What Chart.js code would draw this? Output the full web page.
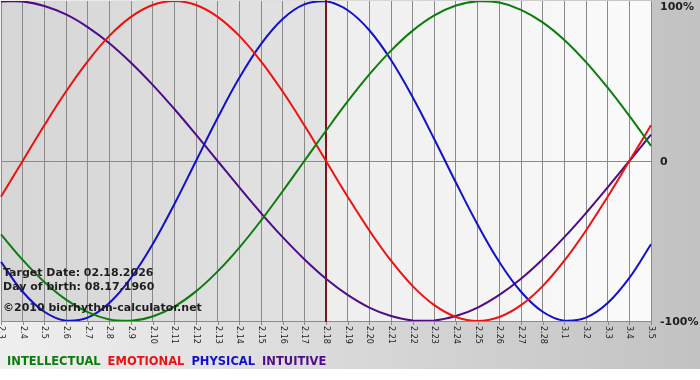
<!DOCTYPE html>
<html>
<head>
<meta charset="utf-8">
<script src="https://cdn.jsdelivr.net/npm/chart.js@4/dist/chart.umd.min.js"></script>
<style>
  body { margin: 0; background: #fff; }
  canvas { display: block; }
</style>
</head>
<body>
<canvas id="chart" width="700" height="380"></canvas>
<script>
// days shown on the x axis (month.day)
var days = ['2.3', '2.4', '2.5', '2.6', '2.7', '2.8', '2.9', '2.10', '2.11', '2.12', '2.13', '2.14',
  '2.15', '2.16', '2.17', '2.18', '2.19', '2.20', '2.21', '2.22', '2.23', '2.24', '2.25', '2.26',
  '2.27', '2.28', '3.1', '3.2', '3.3', '3.4', '3.5'];

// cycle values in percent
var intellectual = [-45.8, -61.8, -75.6, -86.6, -94.5, -99.0, -99.9, -97.2, -91.0, -81.5, -69.0, -54.1,
  -37.2, -18.9, 0, 18.9, 37.2, 54.1, 69.0, 81.5, 91.0, 97.2, 99.9, 99.0, 94.5, 86.6, 75.6, 61.8,
  45.8, 28.2, 9.5];
var emotional = [-22.3, 0, 22.3, 43.4, 62.3, 78.2, 90.1, 97.5, 100, 97.5, 90.1, 78.2, 62.3, 43.4,
  22.3, 0, -22.3, -43.4, -62.3, -78.2, -90.1, -97.5, -100, -97.5, -90.1, -78.2, -62.3, -43.4, -22.3,
  0, 22.3];
var physical = [-63.1, -81.7, -94.2, -99.8, -97.9, -88.8, -73.1, -52.0, -27.0, 0, 27.0, 52.0, 73.1,
  88.8, 97.9, 99.8, 94.2, 81.7, 63.1, 39.8, 13.6, -13.6, -39.8, -63.1, -81.7, -94.2, -99.8, -97.9,
  -88.8, -73.1, -52.0];
var intuitive = [99.7, 99.7, 96.9, 91.6, 83.7, 73.6, 61.4, 47.6, 32.5, 16.5, 0, -16.5, -32.5, -47.6,
  -61.4, -73.6, -83.7, -91.6, -96.9, -99.7, -99.7, -96.9, -91.6, -83.7, -73.6, -61.4, -47.6, -32.5,
  -16.5, 0, 16.5];

var yTicks = [100, 0, -100];
var yTickLabels = ['100%', '0', '-100%'];
var targetDay = '2.18';
var infoLines = ['Target Date: 02.18.2026', 'Day of birth: 08.17.1960', '\u00a92010 biorhythm-calculator.net'];
var seriesNames = ['INTELLECTUAL', 'EMOTIONAL', 'PHYSICAL', 'INTUITIVE'];
var seriesColors = ['#0c7d0c', '#ee1111', '#1111cc', '#4e0c86'];

var gridColor = '#8a8a8a';
var textColor = '#1e1e1e';

// backgrounds, marker, tick labels and captions
var decor = {
  id: 'decor',
  beforeDraw: function (chart) {
    var ctx = chart.ctx, area = chart.chartArea;
    var markX = chart.scales.x.getPixelForValue(days.indexOf(targetDay));
    ctx.save();
    ctx.fillStyle = '#ffffff';
    ctx.fillRect(0, 0, chart.width, chart.height);
    var g = ctx.createLinearGradient(0, 0, chart.width, 0);
    g.addColorStop(0, '#efefef');
    g.addColorStop(1, '#c2c2c2');
    ctx.fillStyle = g;
    ctx.fillRect(0, 0, chart.width, 369);

    var gl = ctx.createLinearGradient(area.left, 0, markX, 0);
    gl.addColorStop(0, '#d6d6d6');
    gl.addColorStop(1, '#e3e3e3');
    ctx.fillStyle = gl;
    ctx.fillRect(area.left, area.top, markX - area.left, area.bottom - area.top);

    var gr = ctx.createLinearGradient(markX, 0, area.right, 0);
    gr.addColorStop(0, '#eeeeee');
    gr.addColorStop(1, '#fbfbfb');
    ctx.fillStyle = gr;
    ctx.fillRect(markX, area.top, area.right - markX, area.bottom - area.top);
    ctx.restore();
  },
  beforeDatasetsDraw: function (chart) {
    var ctx = chart.ctx, area = chart.chartArea, xs = chart.scales.x;
    var markX = xs.getPixelForValue(days.indexOf(targetDay));
    ctx.save();
    // small tick marks under the axis
    ctx.strokeStyle = gridColor;
    ctx.lineWidth = 1;
    days.forEach(function (d, i) {
      var x = Math.round(xs.getPixelForValue(i)) + 0.5;
      ctx.beginPath();
      ctx.moveTo(x, area.bottom);
      ctx.lineTo(x, area.bottom + 4);
      ctx.stroke();
    });
    // target date marker
    ctx.strokeStyle = '#7f1515';
    ctx.lineWidth = 2;
    ctx.beginPath();
    ctx.moveTo(markX, 0);
    ctx.lineTo(markX, area.bottom + 1);
    ctx.stroke();
    ctx.restore();
  },
  afterDraw: function (chart) {
    var ctx = chart.ctx, area = chart.chartArea;
    var xs = chart.scales.x, ys = chart.scales.y;
    ctx.save();
    ctx.fillStyle = textColor;

    // x tick labels, turned clockwise
    ctx.font = '8px "DejaVu Sans"';
    ctx.textAlign = 'left';
    ctx.textBaseline = 'middle';
    days.forEach(function (d, i) {
      ctx.save();
      ctx.translate(xs.getPixelForValue(i), area.bottom + 5);
      ctx.rotate(Math.PI / 2);
      ctx.fillText(d, 0, 0);
      ctx.restore();
    });

    // y labels on the right
    ctx.font = 'bold 11px "DejaVu Sans"';
    yTicks.forEach(function (v, i) {
      var y = Math.max(ys.getPixelForValue(v) + 1, 7);
      ctx.fillText(yTickLabels[i], area.right + 9, y);
    });

    // info text
    ctx.textBaseline = 'alphabetic';
    ctx.fillText(infoLines[0], 3, 276);
    ctx.fillText(infoLines[1], 3, 290);
    ctx.fillText(infoLines[2], 3, 311);

    // legend
    ctx.font = 'bold 11.5px "DejaVu Sans"';
    var x = 7;
    seriesNames.forEach(function (name, i) {
      ctx.fillStyle = seriesColors[i];
      ctx.fillText(name, x, 365);
      x += ctx.measureText(name).width + 7;
    });
    ctx.restore();
  }
};

function makeSet(label, data, color) {
  return {
    label: label,
    data: data,
    borderColor: color,
    backgroundColor: color,
    borderWidth: 2,
    pointRadius: 0,
    fill: false,
    tension: 0.4
  };
}

var chart = new Chart(document.getElementById('chart'), {
  type: 'line',
  data: {
    labels: days,
    datasets: [
      makeSet(seriesNames[0], intellectual, seriesColors[0]),
      makeSet(seriesNames[1], emotional, seriesColors[1]),
      makeSet(seriesNames[2], physical, seriesColors[2]),
      makeSet(seriesNames[3], intuitive, seriesColors[3])
    ]
  },
  options: {
    responsive: false,
    devicePixelRatio: 1,
    animation: false,
    layout: {
      padding: { left: 1, top: 1, right: 49, bottom: 59 }
    },
    plugins: {
      legend: { display: false },
      tooltip: { enabled: false }
    },
    scales: {
      x: {
        offset: false,
        grid: { color: gridColor, lineWidth: 1, drawTicks: false },
        border: { display: false },
        ticks: { display: false }
      },
      y: {
        position: 'right',
        min: -100,
        max: 100,
        grid: {
          drawTicks: false,
          lineWidth: 1,
          color: function (c) { return c.tick && c.tick.value === 100 ? 'rgba(0,0,0,0)' : gridColor; }
        },
        border: { display: false },
        ticks: { display: false, stepSize: 100 }
      }
    }
  },
  plugins: [decor]
});
</script>
</body>
</html>
